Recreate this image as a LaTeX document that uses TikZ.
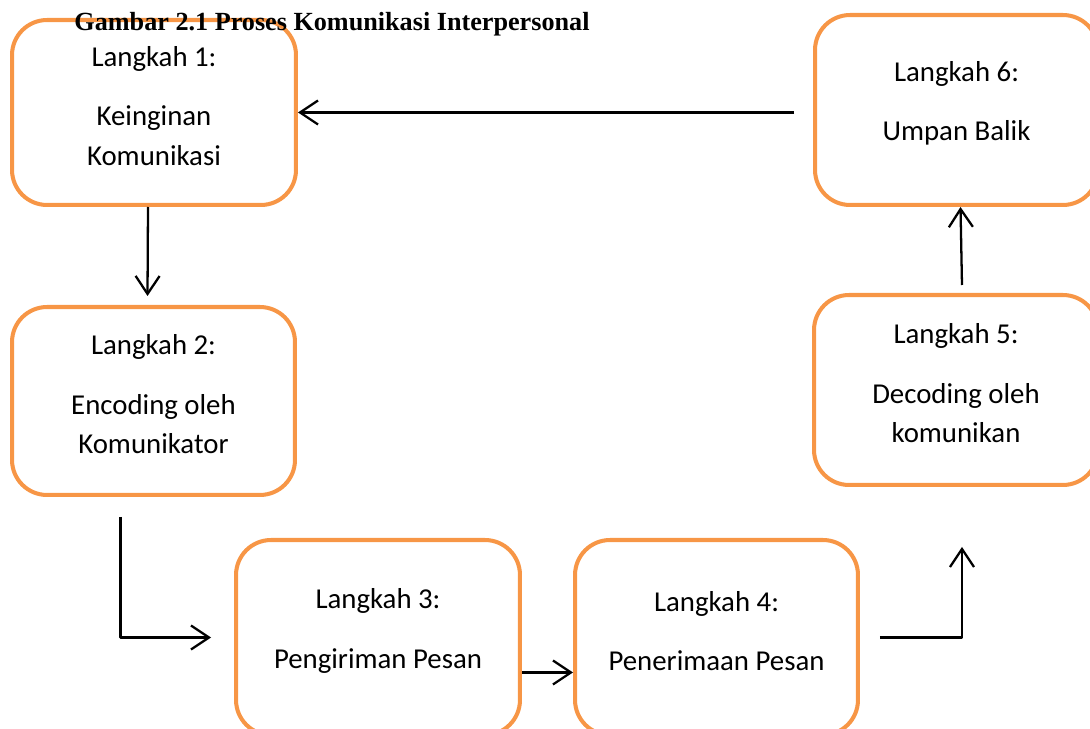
\documentclass[tikz,border=0pt]{standalone}
\usepackage{fontspec}
\setmainfont{Carlito}
\newfontfamily\judulfont{Liberation Serif}
\usetikzlibrary{arrows.meta}
\definecolor{oranye}{RGB}{247,150,70}
\begin{document}
\begin{tikzpicture}[x=0.02cm,y=-0.02cm,line join=round,>={Straight Barb[length=3.6mm,width=4.8mm]}]
	%%%%%%%%% gaya
	\tikzset{kotak/.style={draw=oranye,line width=2.3pt,rounded corners=7mm,inner sep=0pt},
		teks/.style={align=center,yshift=0.13cm,font=\fontsize{16.4}{22.7}\selectfont},
		panah/.style={->,line width=1.3pt}}
	\clip(0,0)rectangle(1090,729);
	%%%%%%%%% kotak langkah
	\node[kotak,minimum width=5.68cm,minimum height=3.7cm,label={[teks]center:{Langkah 1:\\[11pt]Keinginan\\Komunikasi}}](B1) at (154,112.5){};
	\node[kotak,minimum width=5.66cm,minimum height=3.76cm,label={[teks]center:{Langkah 2:\\[11pt]Encoding oleh\\Komunikator}}](B2) at (153.5,401){};
	\node[kotak,minimum width=5.68cm,minimum height=3.9cm,label={[teks]center:{Langkah 3:\\[11pt]Pengiriman Pesan}}](B3) at (378,637.5){};
	\node[kotak,minimum width=5.66cm,minimum height=3.9cm,label={[teks]center:{Langkah 4:\\[11pt]Penerimaan Pesan}}](B4) at (716.5,637.5){};
	\node[kotak,minimum width=5.68cm,minimum height=3.8cm,label={[teks]center:{Langkah 5:\\[11pt]Decoding oleh\\komunikan}}](B5) at (956,390){};
	\node[kotak,minimum width=5.66cm,minimum height=3.8cm,label={[teks]center:{Langkah 6:\\[11pt]Umpan Balik}}](B6) at (956.5,110){};
	%%%%%%%%% judul
	\node[font=\judulfont\bfseries\fontsize{14.9}{17}\selectfont](judul) at (332,24){Gambar 2.1 Proses Komunikasi Interpersonal};
	%%%%%%%%% panah
	\draw[panah](B1.east-|B6.west)++(-19,0)--(B1.east);
	\draw[panah]([xshift=-0.12cm]B1.south)--([xshift=-0.12cm,yshift=0.18cm]B2.north);
	\draw[panah](B2.south)++(-33,20)|-([xshift=-0.46cm]B3.west);
	\draw[panah]([yshift=-0.7cm]B3.east)--([yshift=-0.7cm]B4.west);
	\draw[panah]([xshift=0.4cm]B4.east)-|([xshift=0.12cm,yshift=-1.2cm]B5.south);
	\draw[panah]([xshift=0.12cm,yshift=0.16cm]B5.north)--([xshift=0.08cm]B6.south);
\end{tikzpicture}
\end{document}
